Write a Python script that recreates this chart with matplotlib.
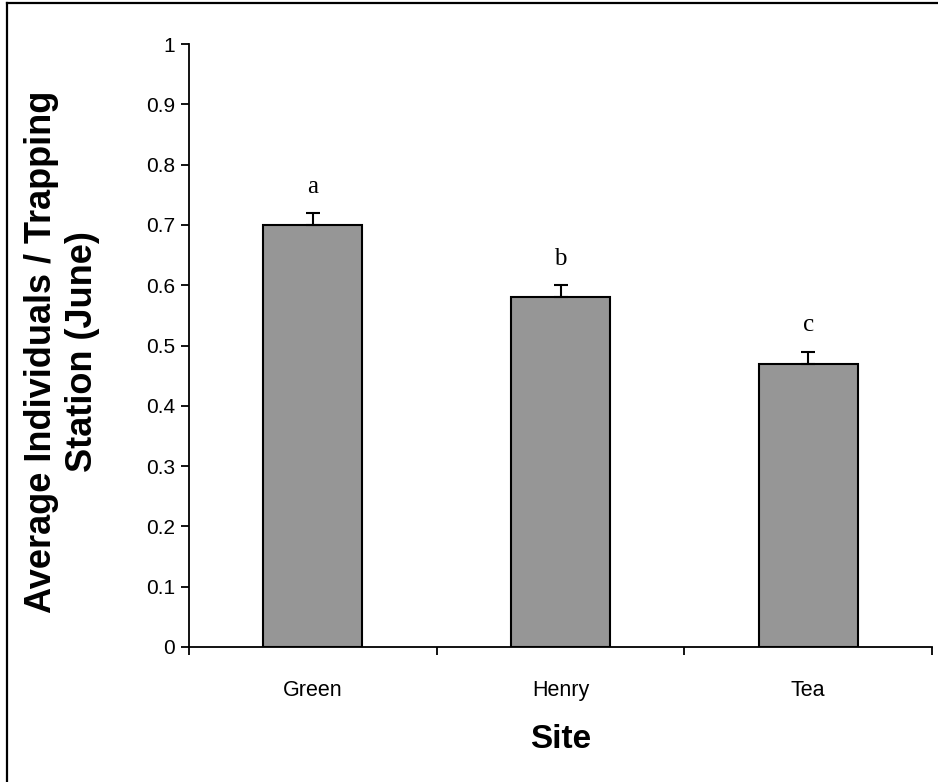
import matplotlib
matplotlib.use("Agg")
import matplotlib.pyplot as plt
from matplotlib.lines import Line2D
from matplotlib.ticker import FixedLocator, NullFormatter

sites = ["Green", "Henry", "Tea"]
means = [0.70, 0.58, 0.47]
errors = [0.02, 0.02, 0.02]
groups = ["a", "b", "c"]
y_ticks = [0, 0.1, 0.2, 0.3, 0.4, 0.5, 0.6, 0.7, 0.8, 0.9, 1.0]
y_tick_labels = ["0", "0.1", "0.2", "0.3", "0.4", "0.5", "0.6", "0.7", "0.8", "0.9", "1"]

W, H = 938, 782
fig = plt.figure(figsize=(W / 100, H / 100), dpi=100)
ax = fig.add_axes([189 / W, 1 - 647 / H, (932 - 189) / W, (647 - 44) / H])

sans = ["Liberation Sans", "DejaVu Sans"]
serif = ["Liberation Serif", "DejaVu Serif"]

x = list(range(len(sites)))
ax.bar(x, means, width=0.4, color="#969696", edgecolor="black", linewidth=1.5, zorder=2)
ax.errorbar(x, means, yerr=[[0] * len(errors), errors], fmt="none", ecolor="black",
            elinewidth=1.5, capsize=4.7, capthick=1.5, zorder=3)

for xi, m, e, g in zip(x, means, errors, groups):
    ax.annotate(g, (xi, m + e), xytext=(0, 11), textcoords="offset points",
                ha="center", va="bottom", fontsize=18, family=serif)

ax.set_xlim(-0.5, len(sites) - 0.5)
ax.set_ylim(0, 1)
ax.set_yticks(y_ticks)
ax.set_yticklabels(y_tick_labels, family=sans, fontsize=15)

# category boundaries carry the tick marks, names sit between them
ax.xaxis.set_major_locator(FixedLocator([i - 0.5 for i in range(len(sites) + 1)]))
ax.xaxis.set_major_formatter(NullFormatter())
ax.xaxis.set_minor_locator(FixedLocator(x))
ax.set_xticklabels(sites, minor=True, family=sans, fontsize=15.5)
ax.tick_params(axis="x", which="minor", length=0, pad=24)
ax.tick_params(axis="x", which="major", direction="out", length=6, width=1.3)
ax.tick_params(axis="y", direction="out", length=6, width=1.3, pad=4)

for side in ["top", "right"]:
    ax.spines[side].set_visible(False)
for side in ["left", "bottom"]:
    ax.spines[side].set_linewidth(1.3)

ax.set_xlabel("Site", family=sans, fontsize=24, fontweight="bold")
ax.xaxis.set_label_coords(0.5, -(740 - 647) / 603)
ax.xaxis.label.set_va("center")
ax.set_ylabel("Average Individuals / Trapping\nStation (June)", family=sans, fontsize=26,
              fontweight="bold", linespacing=1.2)
ax.yaxis.set_label_coords(-(189 - 62) / 743, 0.49)
ax.yaxis.label.set_va("center")

# chart-area frame
fig.add_artist(Line2D([7 / W, 7 / W], [0, 1 - 3 / H], transform=fig.transFigure,
                      color="black", linewidth=1.6))
fig.add_artist(Line2D([7 / W, 1], [1 - 3 / H, 1 - 3 / H], transform=fig.transFigure,
                      color="black", linewidth=1.6))

fig.savefig("out.png", dpi=100)
